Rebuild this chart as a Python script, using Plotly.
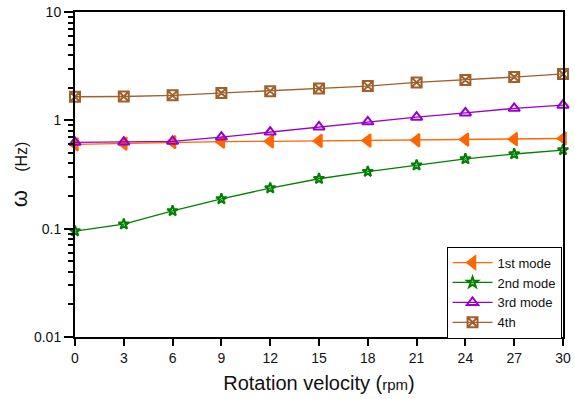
import plotly.graph_objects as go

rpm = [0, 3, 6, 9, 12, 15, 18, 21, 24, 27, 30]
mode1 = [0.60, 0.61, 0.63, 0.635, 0.64, 0.645, 0.65, 0.655, 0.665, 0.67, 0.68]
mode2 = [0.095, 0.11, 0.146, 0.188, 0.237, 0.289, 0.336, 0.385, 0.44, 0.489, 0.532]
mode3 = [0.626, 0.63, 0.64, 0.70, 0.78, 0.87, 0.97, 1.07, 1.17, 1.29, 1.38]
mode4 = [1.65, 1.66, 1.70, 1.79, 1.86, 1.97, 2.07, 2.24, 2.36, 2.51, 2.68]
names = ["1st mode", "2nd mode", "3rd mode", "4th"]
x_ticks = [0, 3, 6, 9, 12, 15, 18, 21, 24, 27, 30]
y_ticks = [0.01, 0.1, 1, 10]
y_tick_labels = ["0.01", "0.1", "1", "10"]

styles = [
    dict(color="#FF6600", symbol="triangle-left", size=11),
    dict(color="#008000", symbol="star-open", size=8),
    dict(color="#9900CC", symbol="triangle-up-open", size=10),
    dict(color="#A0602A", symbol="square-x-open", size=10),
]

fig = go.Figure()
for name, ys, st in zip(names, [mode1, mode2, mode3, mode4], styles):
    fig.add_trace(go.Scatter(
        x=rpm, y=ys, name=name, mode="lines+markers",
        line=dict(color=st["color"], width=1.3),
        marker=dict(symbol=st["symbol"], size=st["size"], color=st["color"],
                    line=dict(color=st["color"], width=2)),
        cliponaxis=False,
    ))

minor_vals = [m * 10 ** k for k in (-2, -1, 0) for m in range(2, 10)]

fig.update_layout(
    width=575, height=399,
    margin=dict(l=75, r=12, t=12, b=62),
    paper_bgcolor="white", plot_bgcolor="white",
    font=dict(family="Liberation Sans, Arial, sans-serif", color="#111111", size=13),
    showlegend=True,
    legend=dict(
        x=0.997, y=-0.005, xanchor="right", yanchor="bottom",
        bgcolor="white", bordercolor="black", borderwidth=1,
        font=dict(size=13, color="#111111"),
        tracegroupgap=0, itemwidth=40,
    ),
    xaxis=dict(
        range=[0, 30], tickvals=x_ticks, ticktext=[str(v) for v in x_ticks],
        showline=True, linecolor="black", linewidth=2, mirror=True,
        ticks="outside", ticklen=7, tickwidth=1.5, tickcolor="black",
        showgrid=False, zeroline=False, automargin=False,
        tickfont=dict(size=14, color="#111111"),
        title=dict(text="Rotation velocity (<span style='font-size:15px'>rpm</span>)",
                   font=dict(size=20, color="#111111"), standoff=11),
    ),
    yaxis=dict(
        type="log", range=[-2, 1], tickvals=y_ticks, ticktext=y_tick_labels,
        showline=True, linecolor="black", linewidth=2, mirror=True,
        ticks="outside", ticklen=9, tickwidth=1.5, tickcolor="black",
        minor=dict(tickvals=minor_vals, ticks="outside", ticklen=5,
                   tickwidth=1.5, tickcolor="black", showgrid=False),
        showgrid=False, zeroline=False, automargin=False,
        tickfont=dict(size=14, color="#111111"),
        title=dict(text="ω   <span style='font-size:16px'>(Hz)</span>",
                   font=dict(size=22, color="#111111"), standoff=0),
    ),
)

fig.write_html("out.html", config={"displayModeBar": False},
               post_script="document.body.style.margin='0';document.body.style.overflow='hidden';")
